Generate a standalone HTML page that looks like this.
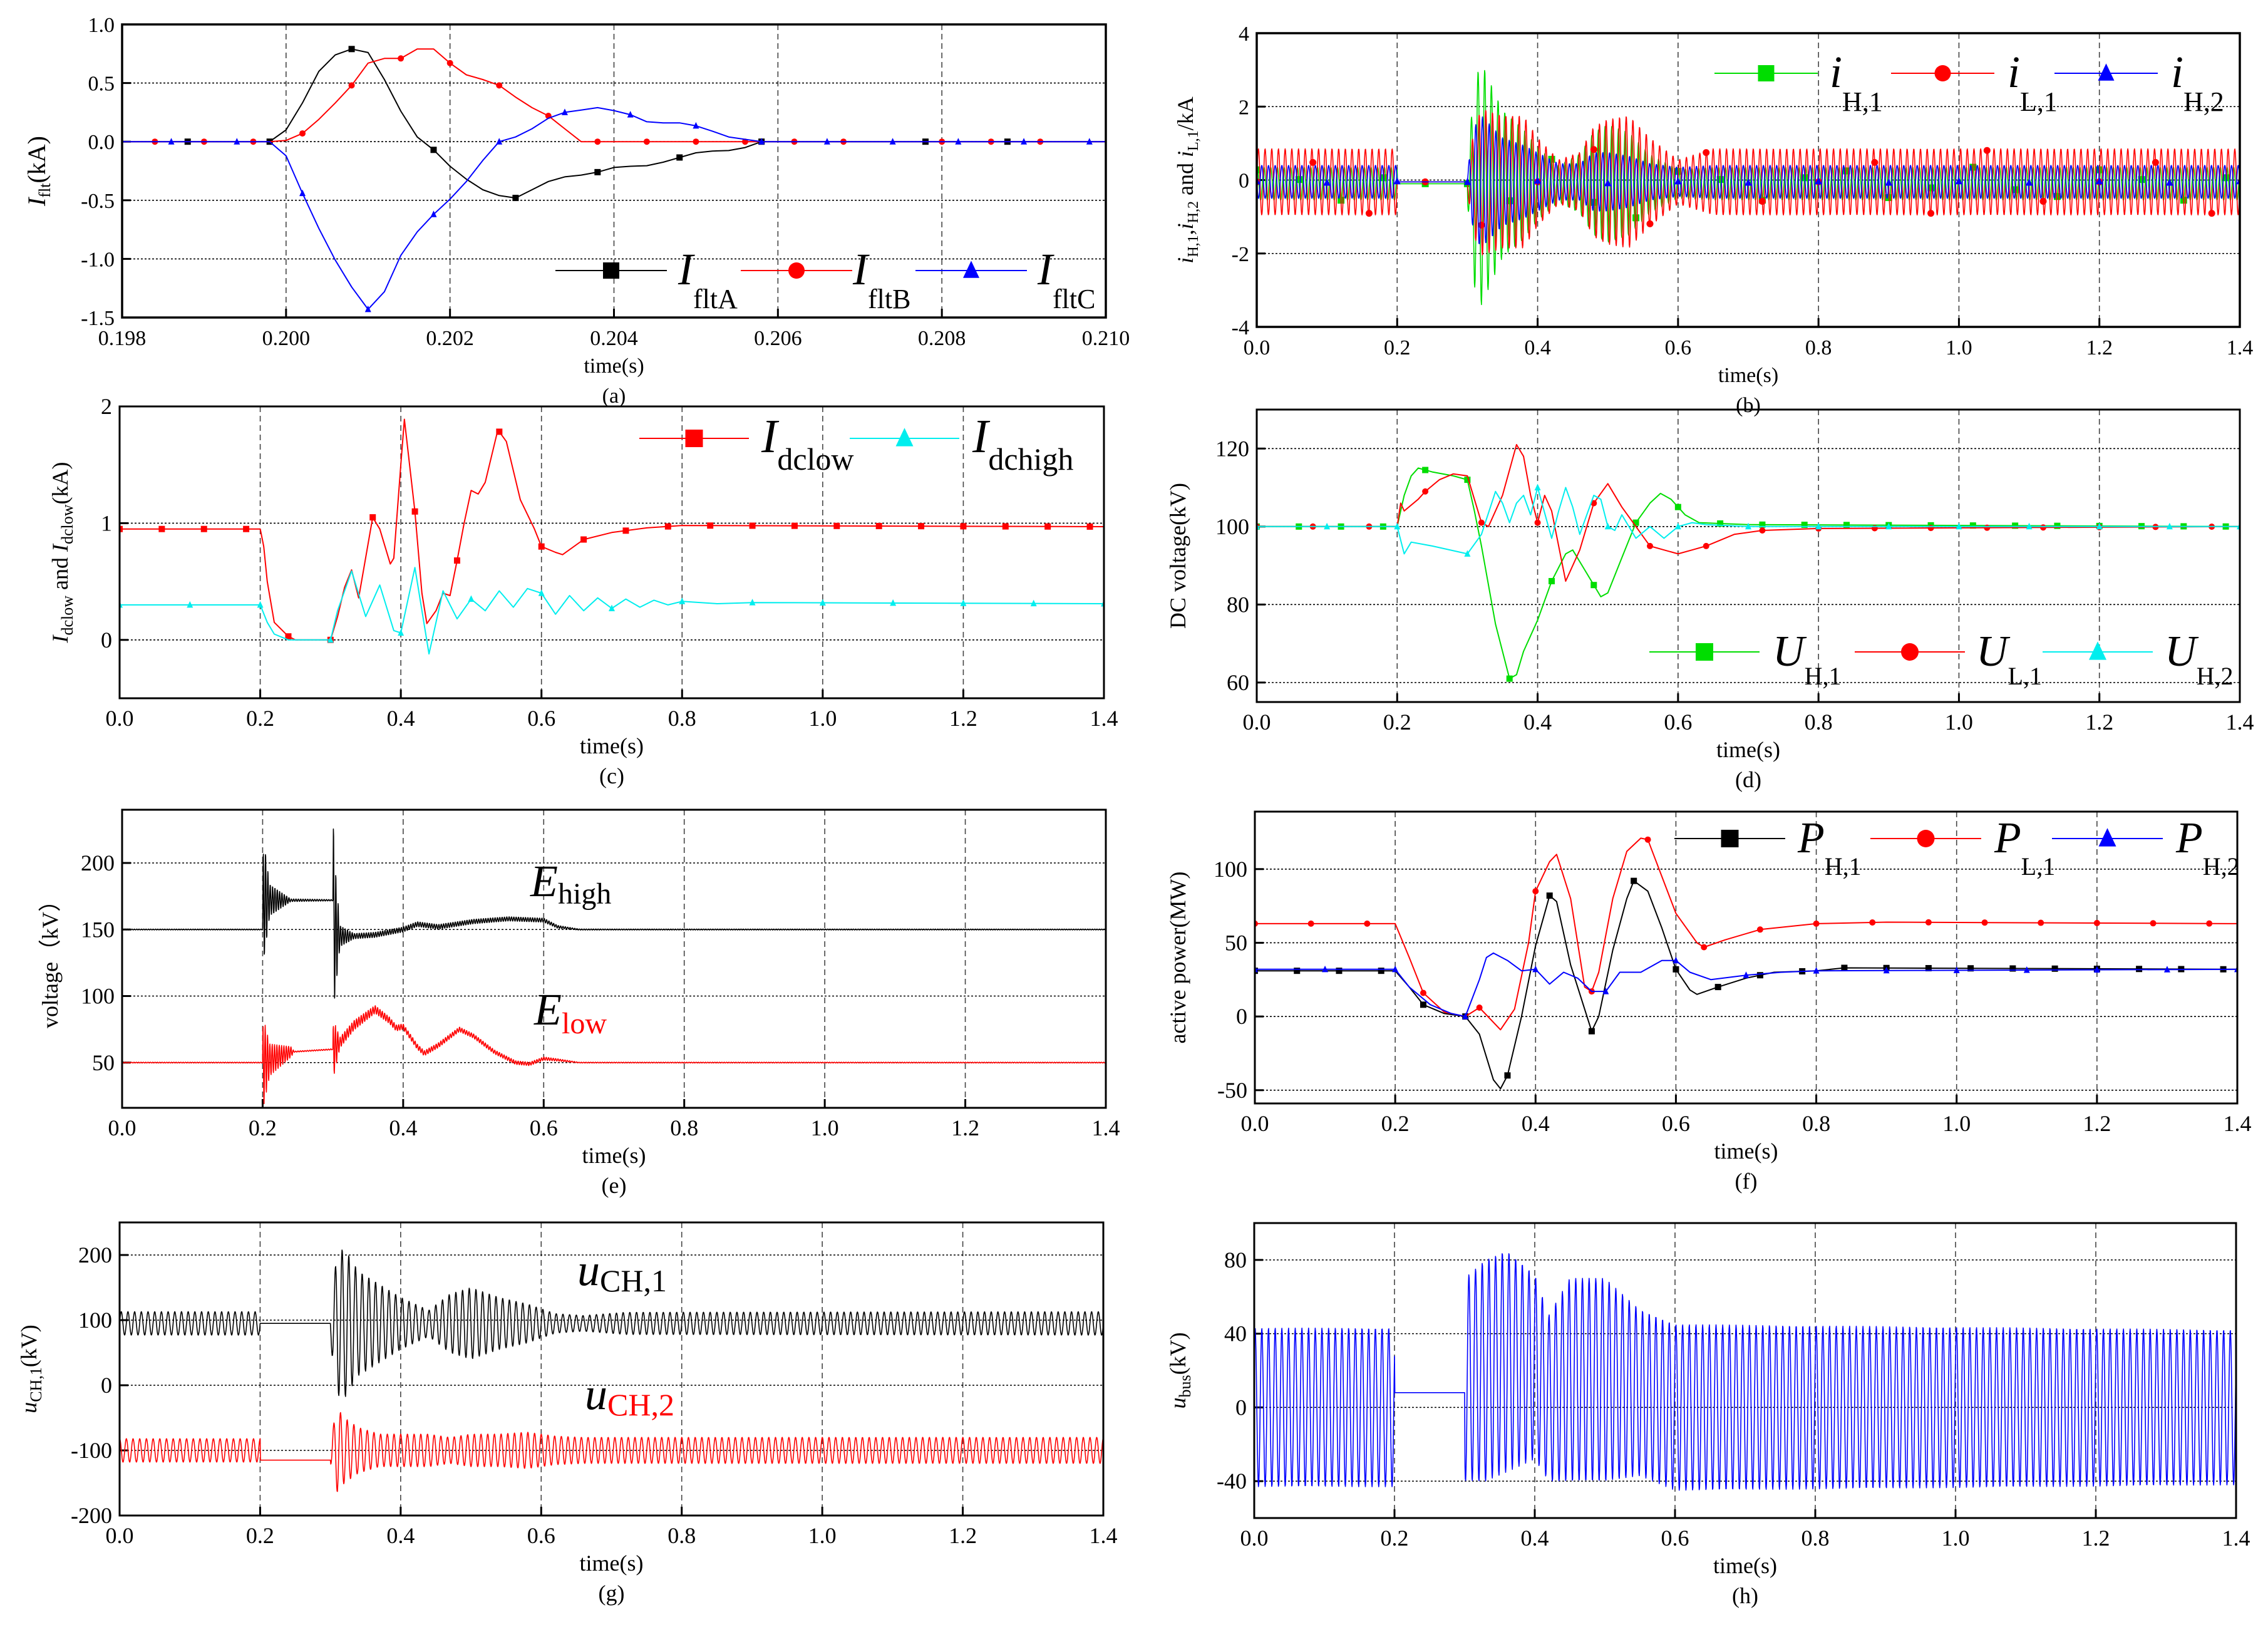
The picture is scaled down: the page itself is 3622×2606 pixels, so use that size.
<!DOCTYPE html>
<html><head><meta charset="utf-8"><title>Fault transient figure</title>
<style>
html,body{margin:0;padding:0;background:#fff;}
svg{display:block;}
text{font-family:"Liberation Serif",serif;fill:#000;}
</style></head>
<body>
<svg id="fig" width="3622" height="2606" viewBox="0 0 3622 2606" xmlns="http://www.w3.org/2000/svg"></svg>
<script>
// ---------- DATA ----------
// (a) fault currents
const aT = [0.1980,0.1998,0.2000,0.2002,0.2004,0.2006,0.2008,0.2010,0.2012,0.2014,0.2016,0.2018,0.2020,0.2022,0.2024,0.2026,0.2028,0.2030,0.2032,0.2034,0.2036,0.2038,0.2040,0.2042,0.2044,0.2046,0.2048,0.2050,0.2052,0.2054,0.2056,0.2058,0.2100];
const aA = [0,0,0.10,0.33,0.60,0.74,0.79,0.76,0.53,0.26,0.04,-0.07,-0.21,-0.32,-0.41,-0.46,-0.48,-0.41,-0.34,-0.30,-0.285,-0.26,-0.22,-0.21,-0.205,-0.175,-0.135,-0.095,-0.08,-0.076,-0.05,0,0];
const aB = [0,0,0.01,0.07,0.19,0.33,0.48,0.67,0.71,0.71,0.79,0.79,0.67,0.57,0.53,0.48,0.38,0.29,0.22,0.11,0,0,0,0,0,0,0,0,0,0,0,0,0];
const aC = [0,0,-0.12,-0.44,-0.74,-1.01,-1.24,-1.43,-1.28,-0.97,-0.77,-0.62,-0.49,-0.34,-0.16,0,0.04,0.11,0.20,0.25,0.27,0.29,0.265,0.23,0.17,0.16,0.16,0.135,0.09,0.04,0.02,0,0];
const aMkA = [0.1988,0.1998,0.2008,0.2018,0.2028,0.2038,0.2048,0.2058,0.2078,0.2088];
const aMkB = [0.1984,0.1990,0.1996,0.2002,0.2008,0.2014,0.2020,0.2026,0.2032,0.2038,0.2044,0.2050,0.2056,0.2062,0.2068,0.2080,0.2086,0.2092];
const aMkC = [0.1986,0.1994,0.2002,0.2010,0.2018,0.2026,0.2034,0.2042,0.2050,0.2058,0.2066,0.2074,0.2082,0.2090,0.2098];
const aXTicks = ["0.198","0.200","0.202","0.204","0.206","0.208","0.210"];
const aYTicks = ["-1.5","-1.0","-0.5","0.0","0.5","1.0"];

const tTicks = ["0.0","0.2","0.4","0.6","0.8","1.0","1.2","1.4"];

// (b) AC currents: envelope knots
const bEnvT = [0,0.2,0.2001,0.3,0.3001,0.31,0.32,0.35,0.38,0.40,0.43,0.46,0.48,0.50,0.53,0.56,0.60,0.65,1.4];
const bAmpH1 = [0.45,0.45,0,0,0.5,2.8,3.3,2.0,1.5,1.0,0.5,0.8,1.4,1.6,1.4,0.8,0.4,0.45,0.45];
const bAmpL1 = [0.9,0.9,0,0,0.3,1.5,2.0,1.8,1.8,1.2,0.6,0.8,1.5,1.7,1.8,1.2,0.6,0.9,0.9];
const bAmpH2 = [0.45,0.45,0,0,0.3,1.5,1.8,1.2,1.0,0.8,0.5,0.5,0.8,0.8,0.7,0.5,0.4,0.45,0.45];
const bOffT = [0,1.4];
const bOffH1 = [-0.1,-0.1];
const bOffL1 = [-0.05,-0.05];
const bOffH2 = [-0.05,-0.05];
const bYTicks = ["-4","-2","0","2","4"];

// (c) DC currents
const cLowT = [0,0.2,0.205,0.21,0.22,0.24,0.25,0.30,0.31,0.32,0.33,0.34,0.36,0.37,0.385,0.39,0.40,0.405,0.42,0.43,0.437,0.45,0.46,0.47,0.48,0.49,0.50,0.51,0.52,0.538,0.55,0.57,0.59,0.60,0.62,0.63,0.66,0.70,0.75,0.80,1.4];
const cLowV = [0.95,0.95,0.8,0.5,0.15,0.03,0,0,0.2,0.45,0.6,0.36,1.05,0.95,0.65,0.7,1.5,1.89,1.1,0.4,0.14,0.25,0.4,0.38,0.68,1.0,1.28,1.25,1.35,1.8,1.7,1.2,0.95,0.8,0.75,0.73,0.86,0.92,0.96,0.98,0.97];
const cHighT = [0,0.2,0.21,0.22,0.24,0.30,0.31,0.33,0.35,0.37,0.39,0.40,0.42,0.44,0.46,0.48,0.50,0.52,0.54,0.56,0.58,0.60,0.62,0.64,0.66,0.68,0.70,0.72,0.74,0.76,0.78,0.80,0.85,0.9,1.4];
const cHighV = [0.3,0.3,0.15,0.05,0,0,0.25,0.59,0.2,0.47,0.08,0.06,0.62,-0.12,0.42,0.18,0.35,0.25,0.42,0.28,0.44,0.40,0.22,0.38,0.25,0.36,0.27,0.35,0.28,0.34,0.30,0.33,0.31,0.32,0.31];
const cYTicks = ["0","1","2"];

// (d) DC voltages
const dGT = [0,0.2,0.21,0.22,0.23,0.25,0.28,0.30,0.31,0.32,0.34,0.36,0.37,0.38,0.40,0.42,0.44,0.45,0.47,0.49,0.50,0.52,0.54,0.56,0.575,0.59,0.61,0.63,0.70,1.4];
const dGV = [100,100,108,113,115,114,113,112,104,95,75,61,62,68,76,86,93,94,88,82,83,92,101,106,108.5,107,103,101,100.5,100];
const dRT = [0,0.2,0.205,0.21,0.23,0.24,0.26,0.28,0.30,0.31,0.32,0.33,0.35,0.37,0.38,0.39,0.40,0.41,0.42,0.44,0.46,0.48,0.50,0.52,0.54,0.56,0.58,0.60,0.62,0.64,0.68,0.72,0.80,1.4];
const dRV = [100,100,106,104,107,109,112,113.5,113,107,101,100,108,121,118,108,101,108,104,86,94,106,111,105,100,95,94,93,94,95,98,99,99.5,100];
const dCT = [0,0.2,0.21,0.22,0.25,0.30,0.32,0.34,0.35,0.36,0.37,0.38,0.39,0.40,0.42,0.43,0.44,0.45,0.46,0.48,0.49,0.50,0.51,0.52,0.54,0.56,0.58,0.60,0.62,0.64,0.70,1.4];
const dCV = [100,100,93,96,95,93,98,109,106,101,106,108,103,110,97,104,110,105,98,108,107,100,99,103,97,100,97,100,101,100.5,100,100];
const dYTicks = ["60","80","100","120"];

// (e) capacitor voltages
const eHighT = [0,0.2,0.202,0.24,0.30,0.302,0.31,0.33,0.36,0.40,0.42,0.45,0.50,0.55,0.60,0.62,0.65,1.4];
const eHighV = [150,150,172,172,172,150,145,145,146,150,154,152,156,158,157,152,150,150];
const eHighRT = [0,0.2,0.2005,0.21,0.24,0.30,0.3005,0.31,0.33,0.60,0.65,1.4];
const eHighRA = [0.3,0.3,50,12,1,0.5,65,8,2,1.5,0.4,0.3];
const eLowT = [0,0.2,0.24,0.30,0.31,0.33,0.36,0.38,0.39,0.40,0.42,0.43,0.45,0.48,0.50,0.53,0.56,0.58,0.60,0.62,0.65,1.4];
const eLowV = [50,50,58,60,65,78,90,82,76,77,62,57,63,75,70,58,50,49,53,52,50,50];
const eLowRT = [0,0.2,0.2005,0.21,0.24,0.245,0.30,0.3005,0.31,0.40,0.60,0.65,1.4];
const eLowRA = [0.3,0.3,35,12,4,0.4,0.4,22,4,2,1.2,0.3,0.3];
const eYTicks = ["50","100","150","200"];

// (f) active power
const fH1T = [0,0.2,0.22,0.24,0.27,0.30,0.32,0.34,0.35,0.36,0.38,0.40,0.42,0.43,0.45,0.47,0.48,0.49,0.51,0.53,0.54,0.56,0.58,0.60,0.62,0.63,0.66,0.70,0.74,0.80,0.84,1.4];
const fH1V = [31,31,20,8,2,0,-12,-43,-49,-40,0,48,82,78,35,5,-10,0,45,80,92,85,60,32,18,15,20,26,30,31,33,32];
const fL1T = [0,0.2,0.22,0.24,0.27,0.30,0.32,0.35,0.37,0.39,0.40,0.42,0.43,0.45,0.47,0.48,0.49,0.51,0.53,0.55,0.56,0.58,0.60,0.63,0.64,0.67,0.72,0.80,0.90,1.4];
const fL1V = [63,63,40,16,3,0,6,-9,5,50,85,105,110,80,20,17,30,80,112,121,120,95,70,50,47,52,59,63,64,63];
const fH2T = [0,0.2,0.22,0.25,0.28,0.30,0.32,0.33,0.34,0.36,0.38,0.40,0.42,0.44,0.46,0.48,0.50,0.52,0.55,0.58,0.60,0.62,0.65,0.70,0.75,0.80,1.4];
const fH2V = [32,32,20,8,2,0,25,40,43,38,31,32,22,30,26,17,17,30,30,38,38,30,25,28,30,31,32];
const fYTicks = ["-50","0","50","100"];

// (g) converter AC voltages
const gEnvT = [0,0.2,0.2001,0.3,0.3001,0.31,0.32,0.34,0.37,0.40,0.44,0.47,0.50,0.54,0.58,0.62,0.66,0.72,1.4];
const gAmp1 = [18,18,0,0,30,110,115,80,60,40,20,45,55,40,30,15,12,17,18];
const gAmp2 = [18,18,0,0,20,65,50,35,25,25,25,20,25,25,28,22,20,20,20];
const gOffT = [0,0.2,0.2001,0.3,0.3001,1.4];
const gOff1 = [95,95,95,95,95,95];
const gOff2 = [-100,-100,-115,-115,-100,-100];
const gYTicks = ["-200","-100","0","100","200"];

// (h) bus voltage
const hOffT = [0,0.2,0.2001,0.3,0.3001,0.33,0.36,0.40,0.42,0.45,0.50,0.55,0.60,1.4];
const hOff = [0,0,8,8,15,20,25,22,5,15,15,8,0,0];
const hAmpT = [0,0.2,0.2001,0.3,0.3001,0.33,0.36,0.40,0.42,0.45,0.50,0.55,0.60,1.4];
const hAmp = [43,43,0,0,55,60,60,50,45,55,55,45,45,42];
const hYTicks = ["-40","0","40","80"];

const oscFreq = 105;

// ---------- DRAWING ----------
const NS = "http://www.w3.org/2000/svg";
const svg = document.getElementById('fig');
function el(tag, attrs, parent){
  const e = document.createElementNS(NS, tag);
  for (const k in attrs) e.setAttribute(k, attrs[k]);
  (parent||svg).appendChild(e); return e;
}
function interp(ts, vs, t){
  if (t <= ts[0]) return vs[0];
  for (let i=1;i<ts.length;i++){ if (t <= ts[i]){ const f=(t-ts[i-1])/(ts[i]-ts[i-1]); return vs[i-1]+f*(vs[i]-vs[i-1]); } }
  return vs[vs.length-1];
}
function osc(offT, offV, ampT, ampV, ph, t){
  return interp(offT, offV, t) + interp(ampT, ampV, t)*Math.sin(2*Math.PI*oscFreq*t + ph);
}
function makePanel(c){
  const g = el('g', {});
  
  
  const sx = v => c.x0 + (v - c.xd[0])/(c.xd[1]-c.xd[0])*(c.x1-c.x0);
  const sy = v => c.y1 - (v - c.yd[0])/(c.yd[1]-c.yd[0])*(c.y1-c.y0);
  c.xt.forEach(lab => { const v=parseFloat(lab); const x=sx(v);
    if (x>c.x0+2 && x<c.x1-2){ const l=el('line',{x1:x,x2:x,y1:c.y0,y2:c.y1,stroke:'#444','stroke-width':1.6,'stroke-dasharray':'9,6'},g);
        }
    el('line',{x1:x,x2:x,y1:c.y1,y2:c.y1-14,stroke:'#000','stroke-width':3},g);
    const t=el('text',{x:x,y:c.y1+44,'font-size':c.fs,'text-anchor':'middle'},g); t.textContent=lab;
     
  });
  c.yt.forEach(lab => { const v=parseFloat(lab); const y=sy(v);
    if (y>c.y0+2 && y<c.y1-2){ const l=el('line',{x1:c.x0,x2:c.x1,y1:y,y2:y,stroke:'#000','stroke-width':1.6,'stroke-dasharray':'3,3'},g);
        }
    el('line',{x1:c.x0,x2:c.x0+14,y1:y,y2:y,stroke:'#000','stroke-width':3},g);
    const t=el('text',{x:c.x0-12,y:y+12,'font-size':c.fs,'text-anchor':'end'},g); t.textContent=lab;
     
  });
  const clipId = c.name+'-clip';
  const cp = el('clipPath',{id:clipId},g); el('rect',{x:c.x0,y:c.y0,width:c.x1-c.x0,height:c.y1-c.y0},cp);
  const plot = el('g',{'clip-path':'url(#'+clipId+')'},g);
  c.series.forEach(s => {
    let d='';
    if (s.fn){ const n=s.n||2800; for(let i=0;i<=n;i++){ const t=c.xd[0]+(c.xd[1]-c.xd[0])*i/n; d+=(i?'L':'M')+sx(t).toFixed(1)+','+sy(s.fn(t)).toFixed(1); } }
    else { s.t.forEach((t,i)=>{ d+=(i?'L':'M')+sx(t).toFixed(1)+','+sy(s.v[i]).toFixed(1); }); }
    const p=el('path',{d:d,fill:'none',stroke:s.color,'stroke-width':s.w||2,'stroke-linejoin':'round'},plot);
     
    if (s.mk){ s.mk.forEach(t => { const v = s.fn ? s.fn(t) : interp(s.t,s.v,t);
      const m = marker(s.shape, sx(t), sy(v), c.ms, s.color, plot);
        }); }
  });
  const fr=el('rect',{x:c.x0,y:c.y0,width:c.x1-c.x0,height:c.y1-c.y0,fill:'none',stroke:'#000','stroke-width':c.fw},g);
   
  const xl=el('text',{x:(c.x0+c.x1)/2,y:c.y1+88,'font-size':c.fs,'text-anchor':'middle'},g); xl.textContent='time(s)';
   
  const pl=el('text',{x:(c.x0+c.x1)/2,y:c.y1+136,'font-size':c.fs,'text-anchor':'middle'},g); pl.textContent=c.tag;
   
  const yl=el('text',{x:0,y:0,'font-size':c.yfs||c.fs,'text-anchor':'middle',transform:'translate('+c.ylx+','+((c.y0+c.y1)/2)+') rotate(-90)'},g);
  yl.innerHTML = c.ylab;
   
  return g;
}
function marker(shape, x, y, s, color, parent){
  if (shape==='sq') return el('rect',{x:x-s/2,y:y-s/2,width:s,height:s,fill:color},parent);
  if (shape==='ci') return el('ellipse',{cx:x,cy:y,rx:s/2,ry:s/2,fill:color},parent);
  return el('polygon',{points:(x)+','+(y-s*0.6)+' '+(x-s/2)+','+(y+s*0.45)+' '+(x+s/2)+','+(y+s*0.45),fill:color},parent);
}
function legend(entries, y, lineLen, ms, fsMain, fsSub){
  entries.forEach(e => {
    const g=el('g',{});
     
    el('line',{x1:e.x,x2:e.x+lineLen,y1:y,y2:y,stroke:e.color,'stroke-width':2},g);
    marker(e.shape, e.x+lineLen/2, y, ms, e.color, g);
    const t=el('text',{x:e.tx,y:y+(e.dy||22),'font-size':fsMain,'font-style':'italic',fill:e.tcolor||'#000'},g);
    t.innerHTML = e.main+'<tspan dy="'+(e.sdy||38)+'" font-size="'+fsSub+'" font-style="normal">'+e.sub+'</tspan>';
  });
}

const mk08=[], mk10=[], mk06=[];
for(let i=0;i<=17;i++) mk08.push(+(i*0.08).toFixed(2));
for(let i=0;i<=14;i++) mk10.push(+(i*0.1).toFixed(2));
for(let i=0;i<=23;i++) mk06.push(+(i*0.06).toFixed(2));

// panel a
makePanel({name:'panel-a-fault-current',tag:'(a)',x0:195,x1:1766,y0:39,y1:507,xd:[0.198,0.210],yd:[-1.5,1.0],xt:aXTicks,yt:aYTicks,fs:34,fw:3.5,ms:10,
  ylx:72,yfs:40,ylab:'<tspan font-style="italic">I</tspan><tspan font-size="26" dy="8">flt</tspan><tspan dy="-8">(kA)</tspan>',
  series:[{name:'iflta',t:aT,v:aA,color:'#000',shape:'sq',mk:aMkA},{name:'ifltb',t:aT,v:aB,color:'#f00',shape:'ci',mk:aMkB},{name:'ifltc',t:aT,v:aC,color:'#00f',shape:'tr',mk:aMkC}]});
legend([{x:887,tx:1083,color:'#000',shape:'sq',main:'I',sub:'fltA'},{x:1183,tx:1362,color:'#f00',shape:'ci',main:'I',sub:'fltB'},{x:1462,tx:1657,color:'#00f',shape:'tr',main:'I',sub:'fltC'}],432,178,26,72,44);

// panel b
makePanel({name:'panel-b-ac-current',tag:'(b)',x0:2007,x1:3577,y0:53,y1:522,xd:[0,1.4],yd:[-4,4],xt:tTicks,yt:bYTicks,fs:34,fw:3.5,ms:11,
  ylx:1905,yfs:36,ylab:'<tspan font-style="italic">i</tspan><tspan font-size="24" dy="8">H,1</tspan><tspan dy="-8">,</tspan><tspan font-style="italic">i</tspan><tspan font-size="24" dy="8">H,2</tspan><tspan dy="-8"> and </tspan><tspan font-style="italic">i</tspan><tspan font-size="24" dy="8">L,1</tspan><tspan dy="-8">/kA</tspan>',
  series:[{name:'ih1',fn:t=>osc(bOffT,bOffH1,bEnvT,bAmpH1,1.0,t),color:'#0d0',shape:'sq',w:1.6,mk:mk06},
          {name:'il1',fn:t=>osc(bOffT,bOffL1,bEnvT,bAmpL1,0,t),color:'#f00',shape:'ci',w:1.6,mk:mk08},
          {name:'ih2',fn:t=>osc(bOffT,bOffH2,bEnvT,bAmpH2,3.1,t),color:'#00f',shape:'tr',w:1.6,mk:mk10}]});
legend([{x:2738,tx:2922,color:'#0d0',shape:'sq',main:'i',sub:'H,1'},{x:3020,tx:3206,color:'#f00',shape:'ci',main:'i',sub:'L,1'},{x:3281,tx:3467,color:'#00f',shape:'tr',main:'i',sub:'H,2'}],117,165,26,72,44);

// panel c
makePanel({name:'panel-c-dc-current',tag:'(c)',x0:191,x1:1763,y0:649,y1:1115,xd:[0,1.4],yd:[-0.5,2],xt:tTicks,yt:cYTicks,fs:36,fw:3,ms:10,
  ylx:108,ylab:'<tspan font-style="italic">I</tspan><tspan font-size="26" dy="8">dclow</tspan><tspan dy="-8"> and </tspan><tspan font-style="italic">I</tspan><tspan font-size="26" dy="8">dclow</tspan><tspan dy="-8">(kA)</tspan>',
  series:[{name:'idclow',t:cLowT,v:cLowV,color:'#f00',shape:'sq',mk:mk06},{name:'idchigh',t:cHighT,v:cHighV,color:'#0ee',shape:'tr',mk:mk10}]});
legend([{x:1021,tx:1216,color:'#f00',shape:'sq',main:'I',sub:'dclow',sdy:28},{x:1357,tx:1553,color:'#0ee',shape:'tr',main:'I',sub:'dchigh',sdy:28}],700,175,28,76,50);

// panel d
makePanel({name:'panel-d-dc-voltage',tag:'(d)',x0:2007,x1:3577,y0:654,y1:1121,xd:[0,1.4],yd:[55,130],xt:tTicks,yt:dYTicks,fs:36,fw:3,ms:10,
  ylx:1893,ylab:'DC voltage(kV)',
  series:[{name:'uh1',t:dGT,v:dGV,color:'#0d0',shape:'sq',mk:mk06},{name:'ul1',t:dRT,v:dRV,color:'#f00',shape:'ci',mk:mk08},{name:'uh2',t:dCT,v:dCV,color:'#0ee',shape:'tr',mk:mk10}]});
legend([{x:2634,tx:2831,color:'#0d0',shape:'sq',main:'U',sub:'H,1',sdy:30},{x:2962,tx:3156,color:'#f00',shape:'ci',main:'U',sub:'L,1',sdy:30},{x:3262,tx:3457,color:'#0ee',shape:'tr',main:'U',sub:'H,2',sdy:30}],1041,176,28,70,40);

// panel e
makePanel({name:'panel-e-capacitor-voltage',tag:'(e)',x0:195,x1:1766,y0:1293,y1:1769,xd:[0,1.4],yd:[16,240],xt:tTicks,yt:eYTicks,fs:36,fw:3,ms:0,
  ylx:92,ylab:'voltage（kV）',
  series:[{name:'ehigh',fn:t=>interp(eHighT,eHighV,t)+interp(eHighRT,eHighRA,t)*Math.sin(2*Math.PI*300*t),n:4200,color:'#000',w:1.6},
          {name:'elow',fn:t=>interp(eLowT,eLowV,t)+interp(eLowRT,eLowRA,t)*Math.sin(2*Math.PI*300*t+1),n:4200,color:'#f00',w:1.6}]});
{const t1=el('text',{x:847,y:1431,'font-size':72,'font-style':'italic'}); t1.innerHTML='E<tspan font-size="48" font-style="normal" dy="12">high</tspan>';
  
 const t2=el('text',{x:853,y:1636,'font-size':72,'font-style':'italic',fill:'#f00'}); t2.innerHTML='E<tspan font-size="48" font-style="normal" dy="14" fill="#f00">low</tspan>';
  }

// panel f
makePanel({name:'panel-f-active-power',tag:'(f)',x0:2004,x1:3573,y0:1296,y1:1762,xd:[0,1.4],yd:[-59,139],xt:tTicks,yt:fYTicks,fs:36,fw:3,ms:10,
  ylx:1893,ylab:'active power(MW)',
  series:[{name:'ph1',t:fH1T,v:fH1V,color:'#000',shape:'sq',mk:mk06},{name:'pl1',t:fL1T,v:fL1V,color:'#f00',shape:'ci',mk:mk08},{name:'ph2',t:fH2T,v:fH2V,color:'#00f',shape:'tr',mk:mk10}]});
legend([{x:2674,tx:2871,color:'#000',shape:'sq',main:'P',sub:'H,1',sdy:36},{x:2987,tx:3185,color:'#f00',shape:'ci',main:'P',sub:'L,1',sdy:36},{x:3277,tx:3475,color:'#00f',shape:'tr',main:'P',sub:'H,2',sdy:36}],1339,177,28,70,40);

// panel g
makePanel({name:'panel-g-converter-voltage',tag:'(g)',x0:191,x1:1762,y0:1952,y1:2420,xd:[0,1.4],yd:[-200,250],xt:tTicks,yt:gYTicks,fs:36,fw:3,ms:0,
  ylx:58,ylab:'<tspan font-style="italic">u</tspan><tspan font-size="26" dy="8">CH,1</tspan><tspan dy="-8">(kV)</tspan>',
  series:[{name:'uch1',fn:t=>osc(gOffT,gOff1,gEnvT,gAmp1,0,t),color:'#000',w:1.6},{name:'uch2',fn:t=>osc(gOffT,gOff2,gEnvT,gAmp2,1.5,t),color:'#f00',w:1.6}]});
{const t1=el('text',{x:922,y:2052,'font-size':72,'font-style':'italic'}); t1.innerHTML='u<tspan font-size="50" font-style="normal" dy="10">CH,1</tspan>';
  
 const t2=el('text',{x:934,y:2250,'font-size':72,'font-style':'italic',fill:'#f00'}); t2.innerHTML='u<tspan font-size="50" font-style="normal" dy="10" fill="#f00">CH,2</tspan>';
  }

// panel h
makePanel({name:'panel-h-bus-voltage',tag:'(h)',x0:2003,x1:3571,y0:1953,y1:2424,xd:[0,1.4],yd:[-60,100],xt:tTicks,yt:hYTicks,fs:36,fw:3,ms:0,
  ylx:1893,ylab:'<tspan font-style="italic">u</tspan><tspan font-size="26" dy="8">bus</tspan><tspan dy="-8">(kV)</tspan>',
  series:[{name:'ubus',fn:t=>osc(hOffT,hOff,hAmpT,hAmp,0.7,t),color:'#00f',w:1.6}]});
</script>
</body></html>
